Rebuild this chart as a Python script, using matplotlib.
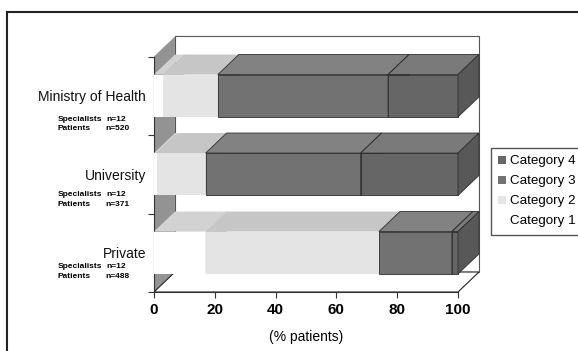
import numpy as np
import matplotlib
matplotlib.use('Agg')
import matplotlib.pyplot as plt
from matplotlib.patches import Polygon, Patch
from matplotlib.lines import Line2D

plt.rcParams['font.family'] = ['Liberation Sans', 'DejaVu Sans']

# data (% of patients), bottom group first
groups = ['Private', 'University', 'Ministry of Health']
specialists = [12, 12, 12]
patients = [488, 371, 520]
cat1 = [17, 1, 3]
cat2 = [57, 16, 18]
cat3 = [24, 51, 56]
cat4 = [2, 32, 23]
series = ['Category 1', 'Category 2', 'Category 3', 'Category 4']
xticks = [0, 20, 40, 60, 80, 100]

# look of the 3d boxes
front = ['#ffffff', '#e4e4e4', '#727272', '#666666']
top = ['#d2d2d2', '#c6c6c6', '#828282', '#7a7a7a']
side = ['#cccccc', '#bbbbbb', '#5e5e5e', '#585858']
edge = ['none', 'none', '#2e2e2e', '#2e2e2e']
dx, dy = 6.9, 0.255   # depth offset (data units)
bh = 0.27             # half bar height
sub_dy = [14, 20.5, 23.5]  # px below label for the n= lines

fig = plt.figure(figsize=(5.78, 3.51), dpi=100)
ax = fig.add_axes([154/578, 59/351, 304/578, 235.5/351])
ax.set_xlim(0, 100)
ax.set_ylim(-0.5, 2.5)


def poly(pts, fc, ec='none', lw=0.6, z=2):
    ax.add_patch(Polygon(pts, closed=True, facecolor=fc, edgecolor=ec,
                         linewidth=lw, clip_on=False, zorder=z))


y0, y1 = -0.5, 2.5
# back wall, left wall, floor
poly([(dx, y0+dy), (100+dx, y0+dy), (100+dx, y1+dy), (dx, y1+dy)], 'white', ec='#555555', lw=0.8, z=0.5)
poly([(0, y0), (dx, y0+dy), (dx, y1+dy), (0, y1)], '#939393', z=1)
poly([(0, y0), (100, y0), (100+dx, y0+dy), (dx, y0+dy)], 'white', ec='#222222', lw=0.8, z=1)

vals = np.array([cat1, cat2, cat3, cat4], dtype=float)
left = np.vstack([np.zeros(len(groups)), np.cumsum(vals, axis=0)[:-1]])

for i in range(len(groups))[::-1]:
    yc = i
    for k in range(4):
        a = left[k, i]
        b = a + vals[k, i]
        poly([(a, yc-bh), (b, yc-bh), (b, yc+bh), (a, yc+bh)], front[k], ec=edge[k], z=3)
        poly([(a, yc+bh), (b, yc+bh), (b+dx, yc+bh+dy), (a+dx, yc+bh+dy)], top[k], ec=edge[k], z=3)
        poly([(b, yc-bh), (b+dx, yc-bh+dy), (b+dx, yc+bh+dy), (b, yc+bh)], side[k], ec=edge[k], z=3)

small = dict(textcoords='offset pixels', ha='left', va='center', fontsize=6,
             fontweight='bold', annotation_clip=False)
for i, g in enumerate(groups):
    ax.annotate(g, xy=(0, i), xytext=(-8, -1.5), textcoords='offset pixels',
                ha='right', va='center', fontsize=10, color='#111111', annotation_clip=False)
    ax.annotate('Specialists', xy=(0, i), xytext=(-96, -sub_dy[i]), **small)
    ax.annotate('n=%d' % specialists[i], xy=(0, i), xytext=(-48, -sub_dy[i]), **small)
    ax.annotate('Patients', xy=(0, i), xytext=(-96, -sub_dy[i]-9.5), **small)
    ax.annotate('n=%d' % patients[i], xy=(0, i), xytext=(-49, -sub_dy[i]-9.5), **small)

ax.set_xticks(xticks)
ax.set_xticklabels([str(t) for t in xticks], fontsize=11, fontweight='bold')
ax.set_yticks([-0.5, 0.5, 1.5, 2.5])
ax.set_yticklabels([])
ax.tick_params(length=4, color='#333333', pad=4)
ax.set_xlabel('(% patients)', fontsize=10, labelpad=9)
for s in ['top', 'right']:
    ax.spines[s].set_visible(False)
for s in ['left', 'bottom']:
    ax.spines[s].set_color('#333333')
    ax.spines[s].set_zorder(1.5)
ax.patch.set_visible(False)

handles = [Patch(facecolor=front[k], edgecolor='none') for k in range(4)][::-1]
fig.legend(handles, series[::-1], loc='upper left', bbox_to_anchor=(491/578, 1-148/351),
           frameon=True, fancybox=False, edgecolor='#555555', fontsize=9.6,
           handlelength=0.55, handleheight=0.55, handletextpad=0.3, labelspacing=0.6,
           borderpad=0.55, borderaxespad=0, framealpha=1)

# outer frame of the scanned figure
fig.add_artist(Line2D([7/578, 7/578], [0, 1-12/351], transform=fig.transFigure, color='#222222', lw=1.5))
fig.add_artist(Line2D([7/578, 1], [1-12/351, 1-12/351], transform=fig.transFigure, color='#222222', lw=1.5))

fig.savefig('out.png', dpi=100)
